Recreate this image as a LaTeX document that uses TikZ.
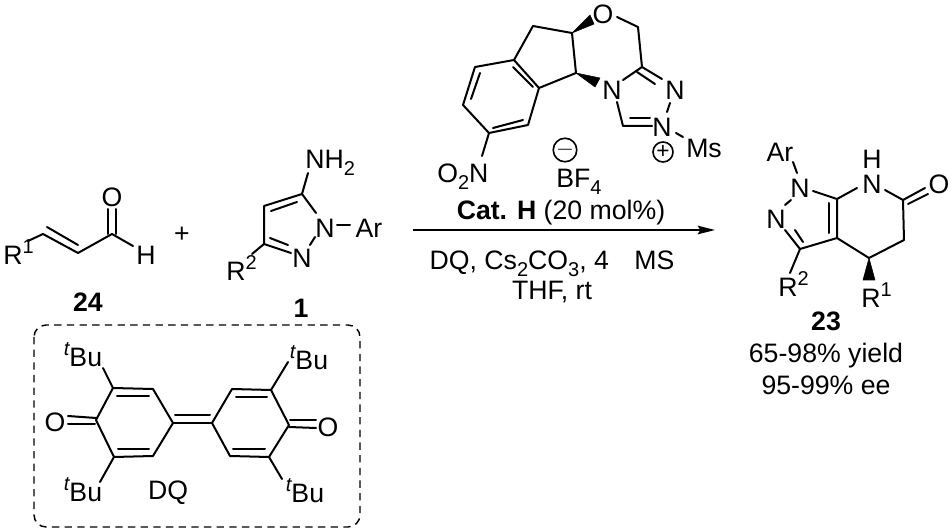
\documentclass[tikz,border=0pt]{standalone}
\usepackage{fontspec}
\setmainfont{Liberation Sans}
\usetikzlibrary{arrows.meta}
\tikzset{
  bond/.style={line width=1.5pt,line cap=round,line join=round,black},
  lab/.style={inner sep=0pt,font=\fontsize{20}{22}\selectfont,text height=14.3pt,text depth=0pt,black},
  bld/.style={lab,font=\fontsize{20}{22}\selectfont\bfseries},
  wedge/.style={fill=black,draw=black,line width=.4pt,line join=round},
  chg/.style={circle,draw=black,line width=1.2pt,minimum size=15pt,inner sep=0pt,font=\fontsize{17}{17}\selectfont}
}
\newcommand{\sbs}[1]{\raisebox{-5pt}{\fontsize{15}{15}\selectfont #1}}
\newcommand{\sps}[1]{\raisebox{8pt}{\fontsize{15}{15}\selectfont #1}}
\begin{document}
\begin{tikzpicture}[x=0.75pt,y=-0.75pt]
\useasboundingbox (0,0) rectangle (951,531);
% catalyst
\node[lab] (cO) at (603,14) {O};
\node[lab] (cN4) at (612,90) {N};
\node[lab] (cN2) at (675,90) {N};
\node[lab] (cNp) at (662,127) {N};
\node[lab,anchor=west] (cMs) at (686,148) {Ms};
\node[chg] (cplus) at (663,152) {+};
\node[chg] (cminus) at (565,150) {$-$};
\node[lab,anchor=west] (cBF) at (556,178) {BF\sbs{4}};
\node[lab,anchor=west] (cNO) at (437,173) {O\sbs{2}N};
\draw[bond] (617,17) -- (638,27) -- (642,67) -- (662,79);
\draw[bond] (637,72) -- (655,84);
\draw[bond] (642,67) -- (623,80);
\draw[bond] (617,102) -- (623,126) -- (652,126);
\draw[bond] (630,118) -- (650,118);
\draw[bond] (667,112) -- (670,103);
\draw[bond] (676,133) -- (683,137);
\draw[bond] (572,33) -- (576,73) -- (539,88) -- (514,60) -- (533,26) -- (572,33);
\draw[bond] (539,88) -- (528,125) -- (489,133) -- (463,105) -- (475,67) -- (514,60);
\draw[bond] (513,67) -- (533,87);
\draw[bond] (493,128) -- (523,120);
\draw[bond] (480,73) -- (471,99);
\draw[bond] (489,133) -- (482,156);
\fill[wedge] (572,33) -- (590,15) -- (594,24) -- cycle;
\fill[wedge] (576,73) -- (600,78) -- (595,87) -- cycle;
% aldehyde 24
\node[lab,anchor=west] (aR) at (3,255) {R\sps{1}};
\node[lab] (aO) at (112,197) {O};
\node[lab] (aH) at (146,255) {H};
\node[lab] (plus) at (182,233) {+};
\node[bld] (l24) at (88,302) {24};
\draw[bond] (28,241) -- (43,234) -- (78,253) -- (112,234) -- (133,246);
\draw[bond] (47,227) -- (78,245);
\draw[bond] (107.5,234) -- (107.5,209);
\draw[bond] (115.5,234) -- (115.5,209);
% pyrazole 1
\node[lab,anchor=west] (pNH) at (305,159) {NH\sbs{2}};
\node[lab] (pN1) at (325,228) {N};
\node[lab] (pN2) at (302,258) {N};
\node[lab] (pAr) at (369,228) {Ar};
\node[lab,anchor=west] (pR) at (226,271) {R\sps{2}};
\node[bld] (l1) at (301,308) {1};
\draw[bond] (308,173) -- (302,194) -- (316,213);
\draw[bond] (302,194) -- (264,206) -- (264,244) -- (291,253);
\draw[bond] (271,211) -- (297,202);
\draw[bond] (270,238) -- (288,245);
\draw[bond] (315,237) -- (310,245);
\draw[bond] (337,225) -- (350,225);
\draw[bond] (264,244) -- (252,254);
% arrow and conditions
\coordinate (as) at (413,230);
\coordinate (ae) at (715,230);
\draw[line width=1.2pt,black,-{Stealth[length=13pt,width=6.5pt,inset=2pt]}] (as) -- (ae);
\node[lab] (cat) at (561,210) {\textbf{Cat. H} (20 mol\%)};
\node[lab] (cond) at (552,260) {DQ, Cs\sbs{2}CO\sbs{3}, 4\hspace{0.95em}MS};
\node[lab] (solv) at (552,290) {THF, rt};
% product 23
\node[lab] (qAr) at (780,152) {Ar};
\node[lab] (qN1) at (800,188) {N};
\node[lab] (qN2) at (776,219) {N};
\node[lab] (qN) at (872,184) {N};
\node[lab] (qH) at (872,159) {H};
\node[lab] (qO) at (939,184) {O};
\node[lab,anchor=west] (qR2) at (778,287) {R\sps{2}};
\node[lab,anchor=west] (qR1) at (861,298) {R\sps{1}};
\node[bld] (l23) at (826,321) {23};
\node[lab] (y1) at (826,353) {65-98\% yield};
\node[lab] (y2) at (826,385) {95-99\% ee};
\draw[bond] (793,162) -- (797,173);
\draw[bond] (791,200) -- (785,205);
\draw[bond] (785,230) -- (800,249) -- (837,238) -- (837,199) -- (813,191);
\draw[bond] (795,230) -- (803,242);
\draw[bond] (829,203) -- (829,233);
\draw[bond] (837,199) -- (857,188);
\draw[bond] (885,190) -- (903,200) -- (925,188);
\draw[bond] (908,204) -- (928,194);
\draw[bond] (903,200) -- (904,240) -- (869,258) -- (837,238);
\draw[bond] (800,249) -- (790,273);
\fill[wedge] (869,258) -- (863,280) -- (875,280) -- cycle;
% DQ box
\draw[line width=1.1pt,black,dash pattern=on 5.5pt off 4pt,rounded corners=9pt] (34,325) rectangle (360,527);
\node[lab] (dO1) at (55,422) {O};
\node[lab] (dO2) at (328,427) {O};
\node[lab] (dT1) at (83,357) {\sps{\itshape t}Bu};
\node[lab] (dT2) at (83,492) {\sps{\itshape t}Bu};
\node[lab] (dT3) at (309,360) {\sps{\itshape t}Bu};
\node[lab] (dT4) at (305,493) {\sps{\itshape t}Bu};
\node[lab] (dDQ) at (168,490) {DQ};
\draw[bond] (96,420) -- (113,388) -- (153,389) -- (173,423) -- (153,456) -- (114,457) -- cycle;
\draw[bond] (117,396) -- (149,396);
\draw[bond] (118,449) -- (149,449);
\draw[bond] (96,418) -- (68,416);
\draw[bond] (95,424) -- (68,424);
\draw[bond] (173,423) -- (212,423);
\draw[bond] (175,415) -- (210,415);
\draw[bond] (212,423) -- (232,389) -- (271,390) -- (289,425) -- (269,457) -- (230,456) -- cycle;
\draw[bond] (236,397) -- (267,397);
\draw[bond] (233,449) -- (265,449);
\draw[bond] (290,420) -- (316,420);
\draw[bond] (289,427) -- (316,428);
\draw[bond] (113,388) -- (103,368);
\draw[bond] (114,457) -- (100,482);
\draw[bond] (271,390) -- (288,362);
\draw[bond] (269,457) -- (282,479);
\end{tikzpicture}
\end{document}
